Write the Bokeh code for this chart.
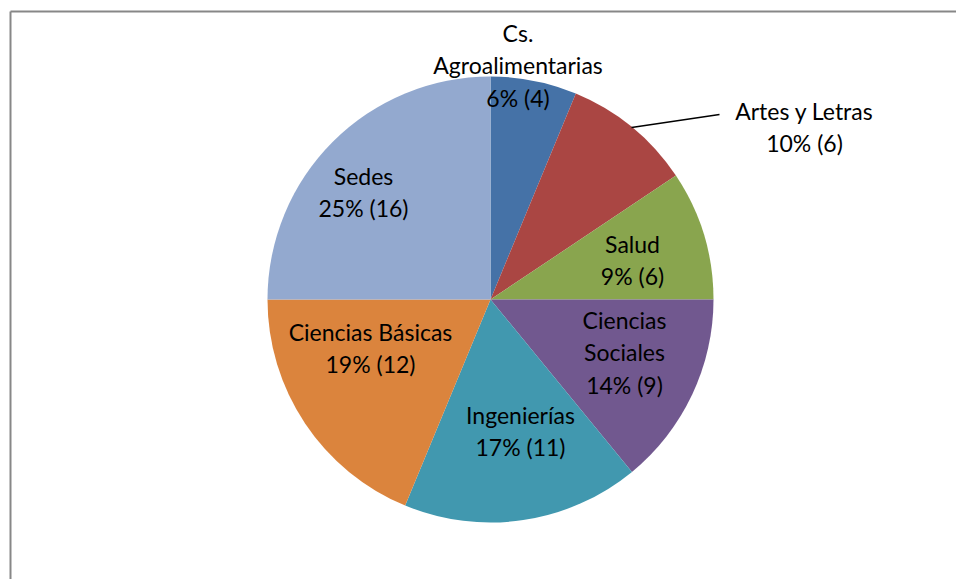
import math
from bokeh.plotting import figure
from bokeh.models import Range1d, ColumnDataSource
from bokeh.core.properties import value
from bokeh.embed import file_html
from bokeh.resources import INLINE

# ---- data ----
categories = ["Cs. Agroalimentarias", "Artes y Letras", "Salud", "Ciencias Sociales",
              "Ingenierías", "Ciencias Básicas", "Sedes"]
counts = [4, 6, 6, 9, 11, 12, 16]
pct_labels = ["6%", "10%", "9%", "14%", "17%", "19%", "25%"]
label_lines = [["Cs.", "Agroalimentarias"], ["Artes y Letras"], ["Salud"],
               ["Ciencias", "Sociales"], ["Ingenierías"], ["Ciencias Básicas"], ["Sedes"]]
colors = ["#4572A7", "#AA4643", "#89A54E", "#71588F", "#4198AF", "#DB843D", "#93A9CF"]

# ---- layout (page pixel coords -> data coords) ----
W, H = 956, 579
def X(px):
    return px
def Y(py):
    return H - py

cx, cy, R = X(490), Y(299), 223
# label centres (page px): x, y of first line; line spacing
label_pos = [(517.5, 32), (804, 110), (632, 243), (624, 319), (520, 414), (370, 331), (363, 175)]
LS = 32.5

p = figure(width=W, height=H, x_range=Range1d(0, W), y_range=Range1d(0, H),
           x_axis_type=None, y_axis_type=None, min_border=0,
           output_backend="svg", toolbar_location=None)
p.outline_line_color = None
p.grid.visible = False
p.background_fill_color = "white"
p.border_fill_color = "white"

total = sum(counts)
starts, ends = [], []
cum = 0
for c in counts:
    a0 = math.pi / 2 - 2 * math.pi * cum / total
    cum += c
    a1 = math.pi / 2 - 2 * math.pi * cum / total
    starts.append(a1)
    ends.append(a0)

src = ColumnDataSource(dict(start=starts, end=ends, color=colors, cat=categories, n=counts))
p.wedge(x=cx, y=cy, radius=R, start_angle="start", end_angle="end",
        fill_color="color", line_color=None, source=src)

# frame (top and left edges of the chart area)
p.segment(x0=[X(10), X(10)], y0=[Y(11), Y(11)], x1=[X(10), W + 5], y1=[-5, Y(11)],
          line_color="#878787", line_width=2)

# leader line for Artes y Letras
p.line(x=[X(631), X(719)], y=[Y(127), Y(114)], line_color="black", line_width=1.3)

tx, ty, tt = [], [], []
for i in range(len(categories)):
    lx, ly = label_pos[i]
    lines = label_lines[i] + [f"{pct_labels[i]} ({counts[i]})"]
    for j, t in enumerate(lines):
        tx.append(X(lx))
        ty.append(Y(ly + j * LS))
        tt.append(t)

p.text(x=tx, y=ty, text=tt, text_align="center", text_baseline="middle",
       text_font=value("Lato"), text_font_size="23px", text_color="#000000")

open("out.html", "w").write(file_html(p, INLINE))
